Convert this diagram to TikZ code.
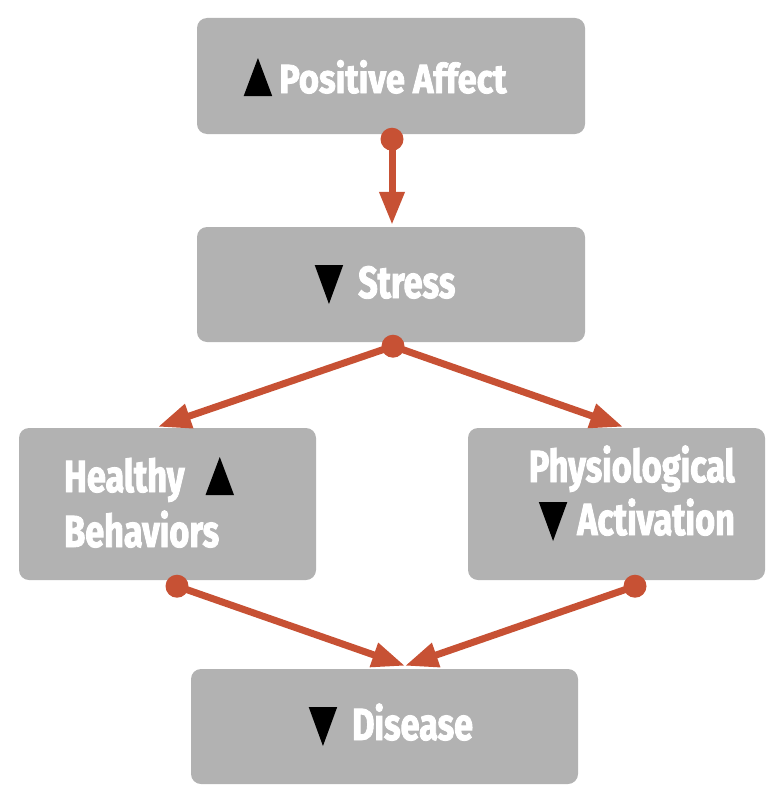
\documentclass[tikz,border=0pt]{standalone}
\usepackage{fontspec}
\usetikzlibrary{arrows.meta,calc}
\newfontfamily\boxfont[FakeStretch=0.76,FakeBold=2]{Fira Sans}
\newfontfamily\boxfontwide[FakeStretch=0.85,FakeBold=2]{Fira Sans}
\definecolor{boxgray}{HTML}{B2B2B2}
\definecolor{arrred}{HTML}{C75134}
\newcommand\uptri{\tikz[baseline=0pt]\fill[black] (0pt,-3pt)--(28.5pt,-3pt)--(14.25pt,35pt)--cycle;}
\newcommand\dntri{\tikz[baseline=0pt]\fill[black] (0pt,33pt)--(28.5pt,33pt)--(14.25pt,-6pt)--cycle;}
\begin{document}
\begin{tikzpicture}[x=1pt,y=-1pt,
  boxstyle/.style={draw=none,fill=boxgray,rounded corners=10pt,inner sep=0pt,rectangle},
  lbl/.style={inner sep=0pt,text=white,font=\boxfont\bfseries\fontsize{45}{54}\selectfont},
  conn/.style={draw=arrred,line width=7pt,-{Triangle[length=33pt 0 0,width=24pt 0 0]}},
  dotstyle/.style={fill=arrred}]
\useasboundingbox (0,0) rectangle (781,800);
% boxes
\node[boxstyle,minimum width=388pt,minimum height=116pt] (pa) at (391,76) {};
\node[boxstyle,minimum width=388pt,minimum height=115pt] (st) at (391,284.5) {};
\node[boxstyle,minimum width=297pt,minimum height=152pt] (hb) at (167.5,504) {};
\node[boxstyle,minimum width=297pt,minimum height=152pt] (pact) at (616.5,504) {};
\node[boxstyle,minimum width=387pt,minimum height=115pt] (dis) at (384.5,726.5) {};
% labels
\node[lbl,anchor=base west,font=\boxfontwide\bfseries\fontsize{40.6}{48}\selectfont] (lpa) at (279,93) {\llap{\uptri\hspace{7pt}}Positive Affect};
\node[lbl,anchor=base west] (lst) at (358,298) {\llap{\dntri\hspace{15pt}}Stress};
\node[lbl,anchor=base west] (lhb1) at (64,492) {Healthy\rlap{\hspace{21pt}\uptri}};
\node[lbl,anchor=base west] (lhb2) at (64,547) {Behaviors};
\node[lbl,anchor=base east] (lpact1) at (735,482) {Physiological};
\node[lbl,anchor=base east] (lpact2) at (735,535) {\llap{\dntri\hspace{10pt}}Activation};
\node[lbl,anchor=base west] (ldis) at (352,740) {\llap{\dntri\hspace{15pt}}Disease};
% connector end points
\coordinate (d1) at ($(pa.south)+(1,5)$);
\coordinate (d2) at ($(st.south)+(2,4)$);
\coordinate (d3) at ($(hb.south)+(9.5,6)$);
\coordinate (d4) at ($(pact.south)+(18.5,6)$);
\coordinate (t1) at ($(st.north)+(1,-2)$);
\coordinate (t2) at ($(hb.north)+(-9.5,-1)$);
\coordinate (t3) at ($(pact.north)+(6.5,-1)$);
\coordinate (t4) at ($(dis.north)+(20.5,-3)$);
% connectors
\draw[conn] (d1) -- (t1);
\draw[conn] (d2) -- (t2);
\draw[conn] (d2) -- (t3);
\draw[conn] (d3) -- (t4);
\draw[conn] (d4) -- (t4);
\fill[dotstyle] (d1) circle (11.5pt);
\fill[dotstyle] (d2) circle (11.5pt);
\fill[dotstyle] (d3) circle (11.5pt);
\fill[dotstyle] (d4) circle (11.5pt);
\end{tikzpicture}
\end{document}
